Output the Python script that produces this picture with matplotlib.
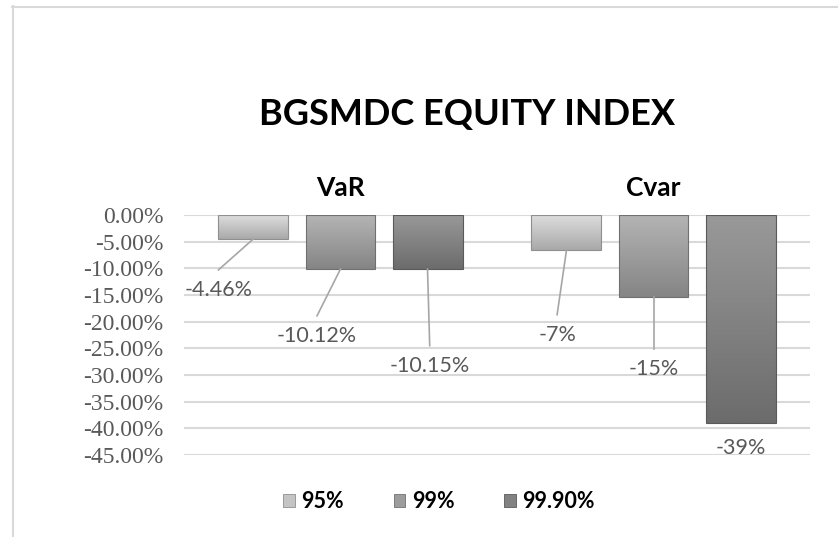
import numpy as np
import matplotlib.pyplot as plt
from matplotlib.lines import Line2D
from matplotlib.patches import Patch
from matplotlib.colors import LinearSegmentedColormap

categories = ["VaR", "Cvar"]
series_names = ["95%", "99%", "99.90%"]
var_values = [-4.46, -10.12, -10.15]
cvar_values = [-6.6, -15.4, -39.0]
value_labels = [["-4.46%", "-10.12%", "-10.15%"], ["-7%", "-15%", "-39%"]]
y_ticks = [0, -5, -10, -15, -20, -25, -30, -35, -40, -45]

# gradient colours per series (top, bottom)
bar_colors = [("#dedede", "#a9a9a9"), ("#b4b4b4", "#858585"), ("#999999", "#6c6c6c")]
edge_colors = ["#8f8f8f", "#707070", "#5a5a5a"]
legend_colors = ["#c4c4c4", "#9c9c9c", "#828282"]

# data label placement (x offset from bar centre, y in data units), leader or not
label_dx = [[-0.112, -0.075, 0.007], [-0.03, 0.0, 0.0]]
label_y = [[-14.1, -22.7, -28.3], [-22.5, -28.9, -43.7]]
leader = [[True, True, True], [True, True, False]]

fig = plt.figure(figsize=(8.38, 5.37), dpi=100)
ax = fig.add_axes([184 / 838, 1 - 455 / 537, 626 / 838, 240 / 537])

values = [var_values, cvar_values]
x = np.arange(len(categories))
width = 0.2236
step = 0.278

for i in range(3):
    vals = [values[c][i] for c in range(len(categories))]
    xs = x + (i - 1) * step
    bars = ax.bar(xs, vals, width, color="none", edgecolor=edge_colors[i],
                  linewidth=0.8, zorder=3, label=series_names[i])
    cmap = LinearSegmentedColormap.from_list("g%d" % i, list(bar_colors[i]))
    for b in bars:
        x0, y0 = b.get_x(), b.get_y()
        w, h = b.get_width(), b.get_height()
        grad = np.linspace(0, 1, 100).reshape(-1, 1)
        im = ax.imshow(grad, cmap=cmap, aspect="auto", zorder=2,
                       extent=[x0, x0 + w, y0 + h, y0], origin="upper")
        im.set_clip_path(b)

for c in range(len(categories)):
    for i in range(3):
        bx = x[c] + (i - 1) * step
        lx = bx + label_dx[c][i]
        ly = label_y[c][i]
        if leader[c][i]:
            ax.plot([bx, lx], [values[c][i], ly + 3.8], color="#a6a6a6",
                    lw=1.2, zorder=4)
        ax.text(lx, ly, value_labels[c][i], ha="center", va="center",
                fontsize=15.5, color="#595959", family="Lato", zorder=5)

ax.set_xlim(-0.5, 1.5)
ax.set_ylim(-45, 0)
ax.set_yticks(y_ticks)
ax.set_yticklabels(["%.2f%%" % v for v in y_ticks], family="Liberation Serif",
                   fontsize=17, color="#595959")
ax.tick_params(axis="y", length=0, pad=15)
ax.xaxis.tick_top()
ax.set_xticks(x)
ax.set_xticklabels(categories, family="Lato", fontweight="bold", fontsize=19)
ax.tick_params(axis="x", length=0, pad=11)
ax.grid(axis="y", color="#d9d9d9", lw=1.5, zorder=0)
ax.set_axisbelow(True)
for s in ax.spines.values():
    s.set_visible(False)

fig.text(467 / 838, 1 - 115 / 537, "BGSMDC EQUITY INDEX", ha="center",
         va="center", fontsize=26, fontweight="bold", family="Lato")

handles = [Patch(facecolor=legend_colors[i], edgecolor=edge_colors[i], lw=0.6)
           for i in range(3)]
fig.legend(handles, series_names, loc="center", bbox_to_anchor=(439 / 838, 1 - 502 / 537),
           ncol=3, frameon=False, prop={"family": "Lato", "weight": "bold", "size": 15.5},
           handlelength=0.55, handleheight=0.55, handletextpad=0.3, columnspacing=2.3)

# outer chart border (top and left)
fig.add_artist(Line2D([12 / 838, 1], [1 - 6.5 / 537, 1 - 6.5 / 537],
                      transform=fig.transFigure, color="#d9d9d9", lw=1.5))
fig.add_artist(Line2D([12.5 / 838, 12.5 / 838], [0, 1 - 6 / 537],
                      transform=fig.transFigure, color="#d9d9d9", lw=1.5))

fig.savefig("out.png", dpi=100)
plt.close(fig)
